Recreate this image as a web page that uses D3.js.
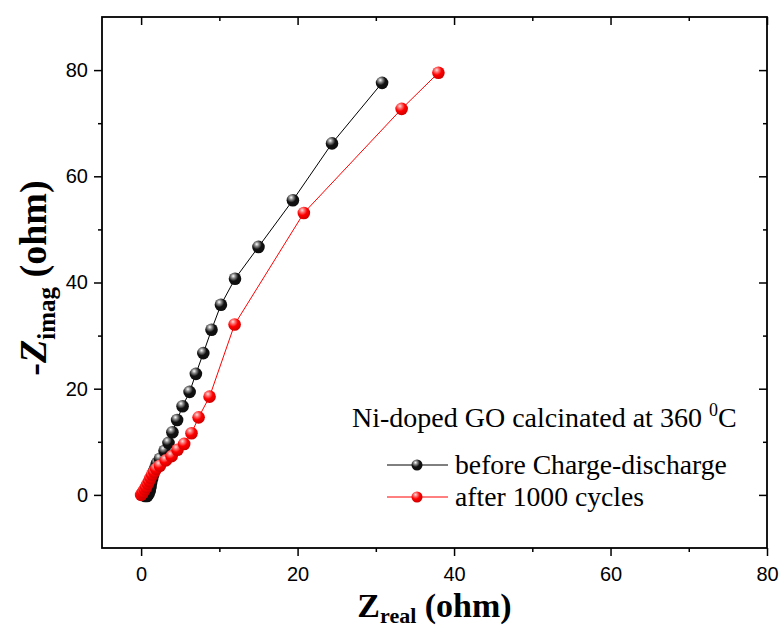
<!DOCTYPE html>
<html>
<head>
<meta charset="utf-8">
<script src="https://cdn.jsdelivr.net/npm/d3@7"></script>
<style>
  html, body { margin: 0; padding: 0; background: #fff; }
  svg { display: block; }
</style>
</head>
<body>
<svg id="chart" width="780" height="630"></svg>
<script>
// ---- data ----
const seriesNames = ["before Charge-discharge", "after 1000 cycles"];
const beforeX = [0.5, 0.77, 0.96, 1.1, 1.2, 1.28, 1.4, 1.54, 1.66, 1.86, 2.05, 2.4, 3.0, 3.5, 4.0, 4.6, 5.3, 6.2, 7.0, 7.95, 9.0, 10.2, 12.0, 15.0, 19.4, 24.4, 30.8];
const beforeY = [-0.2, -0.2, 0.2, 0.75, 1.5, 2.3, 3.0, 3.8, 4.5, 5.3, 6.0, 6.8, 8.3, 9.8, 11.8, 14.1, 16.7, 19.4, 22.8, 26.7, 31.1, 35.8, 40.7, 46.7, 55.5, 66.2, 77.6];
const afterX = [0.0, 0.13, 0.26, 0.45, 0.64, 0.83, 1.02, 1.2, 1.4, 1.66, 1.92, 2.4, 3.16, 3.9, 4.65, 5.5, 6.44, 7.35, 8.75, 11.95, 20.8, 33.3, 38.0];
const afterY = [0.0, 0.28, 0.56, 1.04, 1.5, 2.07, 2.6, 3.2, 3.8, 4.3, 4.9, 5.5, 6.5, 7.3, 8.5, 9.6, 11.6, 14.6, 18.5, 32.1, 53.1, 72.7, 79.5];
const xTicks = [0, 20, 40, 60, 80];
const yTicks = [0, 20, 40, 60, 80];
const xDomain = [-5, 80];
const yDomain = [-10, 90];
const legendTitle = "Ni-doped GO calcinated at 360 ";

// ---- layout ----
const svg = d3.select("#chart");
const L = 102, R = 767, T = 17, B = 548;
const x = d3.scaleLinear().domain(xDomain).range([L, R]);
const y = d3.scaleLinear().domain(yDomain).range([B, T]);

// gradients for spherical markers
const defs = svg.append("defs");
function sphere(id, base, hi) {
  const g = defs.append("radialGradient").attr("id", id)
    .attr("cx", "0.38").attr("cy", "0.32").attr("r", "0.7").attr("fx", "0.36").attr("fy", "0.28");
  g.append("stop").attr("offset", "0%").attr("stop-color", hi);
  g.append("stop").attr("offset", "25%").attr("stop-color", d3.interpolateRgb(hi, base)(0.5));
  g.append("stop").attr("offset", "55%").attr("stop-color", base);
  g.append("stop").attr("offset", "100%").attr("stop-color", d3.color(base).darker(0.6));
}
sphere("gBlack", "#111111", "#ffffff");
sphere("gRed", "#ff0000", "#ffe0e0");

const series = [
  { name: seriesNames[0], xs: beforeX, ys: beforeY, color: "#000000", grad: "url(#gBlack)" },
  { name: seriesNames[1], xs: afterX, ys: afterY, color: "#ff0000", grad: "url(#gRed)" }
];

const plot = svg.append("g");
const line = d3.line().x(d => x(d[0])).y(d => y(d[1]));
series.forEach(s => {
  const pts = s.xs.map((v, i) => [v, s.ys[i]]);
  plot.append("path").datum(pts).attr("d", line)
    .attr("fill", "none").attr("stroke", s.color).attr("stroke-width", 1);
  plot.selectAll(null).data(pts).enter().append("circle")
    .attr("cx", d => x(d[0])).attr("cy", d => y(d[1])).attr("r", 6.3)
    .attr("fill", s.grad);
});

// ---- axes ----
const tickFont = "'Liberation Sans', Arial, sans-serif";
function styleAxis(g) {
  g.select(".domain").remove();
  g.selectAll("line").attr("stroke", "#000").attr("stroke-width", 1.5);
  g.selectAll("text").attr("font-family", tickFont).attr("font-size", 20).attr("fill", "#000");
}
const xMinor = d3.range(10, 80, 20);
const yMinor = d3.range(-10, 91, 20).filter(v => v > -10 && v < 90);

// bottom
svg.append("g").attr("transform", `translate(0,${B})`)
  .call(d3.axisBottom(x).tickValues(xTicks).tickSize(8).tickPadding(11)).call(styleAxis);
svg.append("g").attr("transform", `translate(0,${B})`)
  .call(d3.axisBottom(x).tickValues(xMinor).tickSize(4).tickFormat("")).call(styleAxis);
// top (inward)
svg.append("g").attr("transform", `translate(0,${T})`)
  .call(d3.axisBottom(x).tickValues(xTicks).tickSize(8).tickFormat("")).call(styleAxis);
svg.append("g").attr("transform", `translate(0,${T})`)
  .call(d3.axisBottom(x).tickValues(xMinor).tickSize(4).tickFormat("")).call(styleAxis);
// left
svg.append("g").attr("transform", `translate(${L},0)`)
  .call(d3.axisLeft(y).tickValues(yTicks).tickSize(8).tickPadding(6)).call(styleAxis);
svg.append("g").attr("transform", `translate(${L},0)`)
  .call(d3.axisLeft(y).tickValues(yMinor).tickSize(4).tickFormat("")).call(styleAxis);
// right (inward)
svg.append("g").attr("transform", `translate(${R},0)`)
  .call(d3.axisLeft(y).tickValues(yTicks).tickSize(8).tickFormat("")).call(styleAxis);
svg.append("g").attr("transform", `translate(${R},0)`)
  .call(d3.axisLeft(y).tickValues(yMinor).tickSize(4).tickFormat("")).call(styleAxis);

// frame
svg.append("rect").attr("x", L).attr("y", T).attr("width", R - L).attr("height", B - T)
  .attr("fill", "none").attr("stroke", "#000").attr("stroke-width", 1.8);

// ---- axis titles ----
const serif = "'Liberation Serif', 'Times New Roman', serif";
const xt = svg.append("text").attr("x", (L + R) / 2).attr("y", 617)
  .attr("text-anchor", "middle").attr("font-family", serif).attr("font-weight", "bold")
  .attr("font-size", 34).attr("fill", "#000");
xt.append("tspan").text("Z");
xt.append("tspan").attr("font-size", 22).attr("dy", 6).text("real");
xt.append("tspan").attr("dy", -6).text(" (ohm)");

const yt = svg.append("text").attr("transform", `translate(46,278) rotate(-90)`)
  .attr("text-anchor", "middle").attr("font-family", serif).attr("font-weight", "bold")
  .attr("font-size", 38).attr("fill", "#000");
yt.append("tspan").text("-");
yt.append("tspan").attr("font-style", "italic").text("Z");
yt.append("tspan").attr("font-size", 25).attr("dy", 9).text("imag");
yt.append("tspan").attr("dy", -9).text(" (ohm)");

// ---- legend ----
const lt = svg.append("text").attr("x", 352).attr("y", 427)
  .attr("font-family", serif).attr("font-size", 28).attr("fill", "#000");
lt.append("tspan").text(legendTitle);
lt.append("tspan").attr("font-size", 18).attr("dy", -11).text("0");
lt.append("tspan").attr("dy", 11).text("C");

series.forEach((s, i) => {
  const ly = 465 + i * 32;
  svg.append("line").attr("x1", 387).attr("x2", 448).attr("y1", ly).attr("y2", ly)
    .attr("stroke", s.color).attr("stroke-width", 1);
  svg.append("circle").attr("cx", 417).attr("cy", ly).attr("r", 5.5).attr("fill", s.grad);
  svg.append("text").attr("x", 455).attr("y", ly + 9)
    .attr("font-family", serif).attr("font-size", 27.7).attr("fill", "#000").text(s.name);
});
</script>
</body>
</html>
